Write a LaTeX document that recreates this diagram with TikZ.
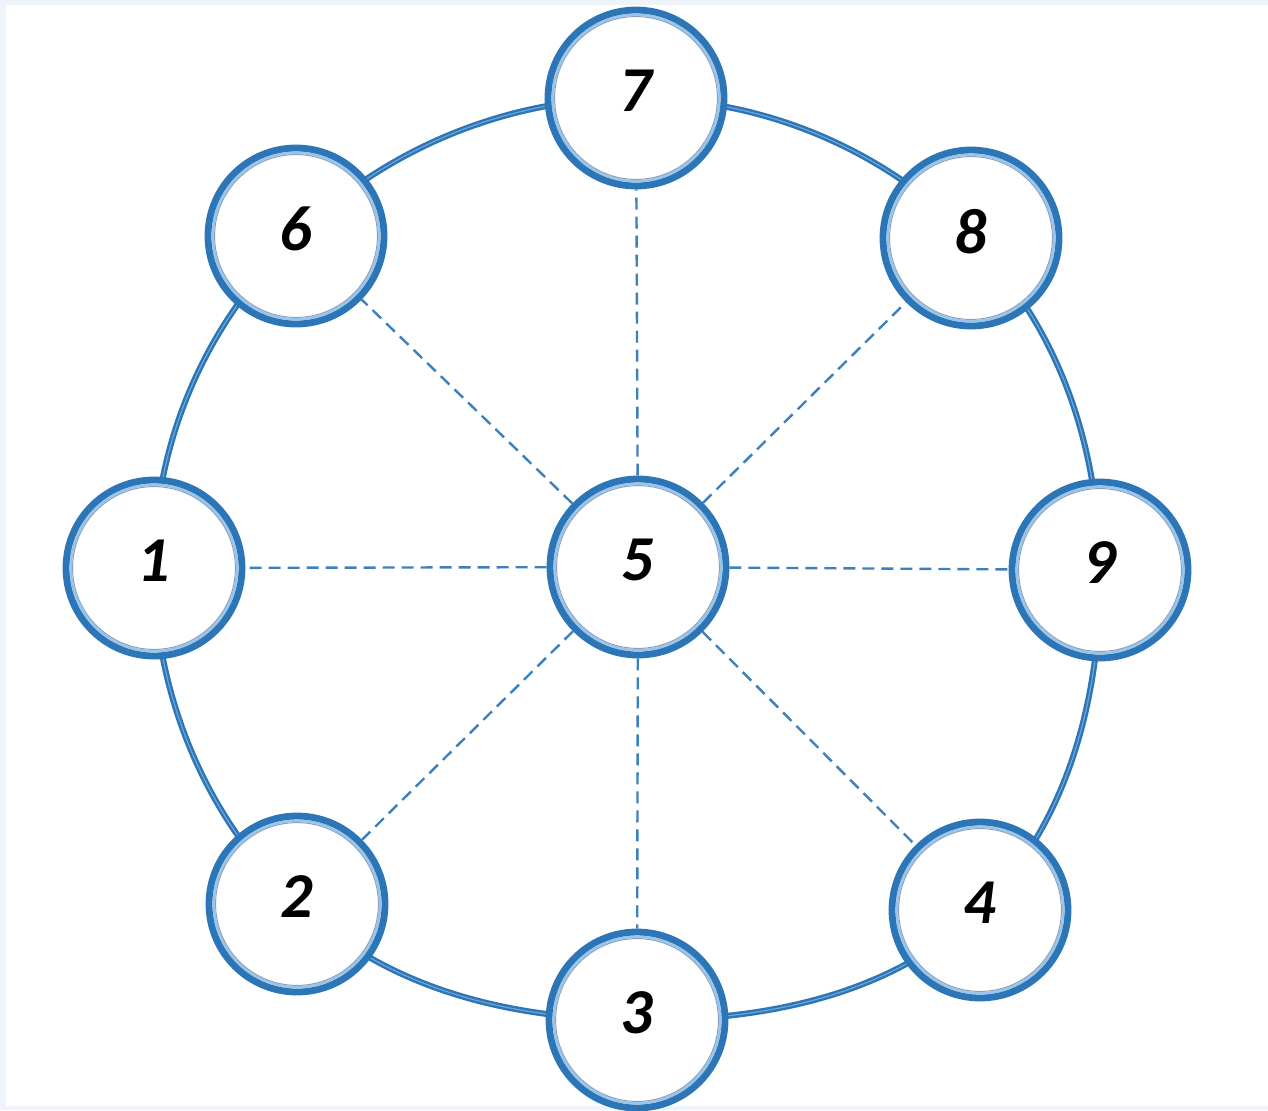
\documentclass[tikz,border=0pt]{standalone}
\usepackage{fontspec}
\setmainfont{Carlito}
\usetikzlibrary{backgrounds}
\definecolor{ringblue}{RGB}{44,117,182}
\definecolor{stripeblue}{RGB}{150,198,235}
\definecolor{ringstripe}{RGB}{110,165,215}
\definecolor{innergrey}{RGB}{140,160,190}
\definecolor{dashblue}{RGB}{60,128,192}
\definecolor{framebg}{RGB}{238,244,249}
\tikzset{
  numnode/.style={circle, draw=ringblue, line width=3.4pt, fill=white,
    minimum size=88pt, inner sep=0pt, text depth=7pt,
    font=\fontsize{32}{32}\selectfont\bfseries\itshape,
    path picture={
      \draw[stripeblue, line width=1.2pt] (path picture bounding box.center) circle (41.6pt);
      \draw[innergrey, line width=0.5pt] (path picture bounding box.center) circle (40.7pt);
    }},
  ringline/.style={draw=ringblue, line width=3pt,
    postaction={draw=ringstripe, line width=0.6pt}},
  spoke/.style={draw=dashblue, line width=1.2pt, dash pattern=on 6pt off 3.5pt}
}
\begin{document}
\begin{tikzpicture}[x=0.5pt, y=-0.5pt]
\useasboundingbox (0,0) rectangle (1268,1110);
% nodes
\node[numnode] (n5) at (638,567) {5};
\node[numnode] (n7) at (636,98) {7};
\node[numnode] (n8) at (971,238) {8};
\node[numnode] (n9) at (1100,570) {9};
\node[numnode] (n4) at (980,910) {4};
\node[numnode] (n3) at (637,1020) {3};
\node[numnode] (n2) at (297,904) {2};
\node[numnode] (n1) at (154,568) {1};
\node[numnode] (n6) at (296,236) {6};
\begin{scope}[on background layer]
  \fill[framebg] (0,0) rectangle (1268,1110);
  \fill[white] (6,5) rectangle (1268,1106);
  % outer ring through the node centres
  \draw[ringline] plot[smooth cycle, tension=0.68]
    coordinates {(n7) (n8) (n9) (n4) (n3) (n2) (n1) (n6)};
\end{scope}
% spokes
\foreach \n in {n1,n2,n3,n4,n6,n7,n8,n9}{
  \draw[spoke] (n5) -- (\n);
}
\end{tikzpicture}
\end{document}
